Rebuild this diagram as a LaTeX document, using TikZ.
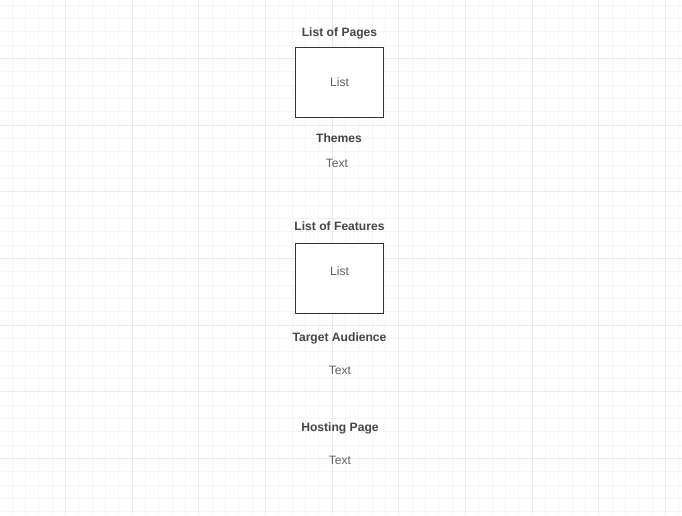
\documentclass[tikz,border=0pt]{standalone}
\usepackage{fontspec}
\setmainfont{Liberation Sans}
\begin{document}
\begin{tikzpicture}[x=1pt,y=-1pt,
  minorline/.style={draw=black!4, line width=0.8pt},
  majorline/.style={draw=black!8, line width=0.8pt},
  heading/.style={font=\fontsize{12.1}{14}\selectfont\bfseries, text=black!73, inner sep=0pt, anchor=base},
  bodytext/.style={font=\fontsize{12.1}{14}\selectfont, text=black!62, inner sep=0pt, anchor=base},
  listbox/.style={draw=black!80, line width=0.9pt, fill=white},
]
\useasboundingbox (0,0) rectangle (682,515);
\fill[white] (0,0) rectangle (682,515);
% grid
\foreach \i in {0,...,51} {
  \pgfmathsetmacro\xx{-1.33+13.333*\i}
  \draw[minorline] (\xx,0) -- (\xx,515);
}
\foreach \i in {0,...,38} {
  \pgfmathsetmacro\yy{5+13.333*\i}
  \draw[minorline] (0,\yy) -- (682,\yy);
}
\foreach \i in {0,...,10} {
  \pgfmathsetmacro\xx{65.33+66.667*\i}
  \draw[majorline] (\xx,0) -- (\xx,515);
}
\foreach \i in {0,...,7} {
  \pgfmathsetmacro\yy{58.33+66.667*\i}
  \draw[majorline] (0,\yy) -- (682,\yy);
}
% boxes
\draw[listbox] (295.3,47.3) rectangle (383.7,117.3);
\draw[listbox] (295.3,243.3) rectangle (383.7,313.3);
% texts
\node[heading] (pages) at (339.5,36) {List of Pages};
\node[bodytext] (list1) at (339.5,86) {List};
\node[heading] (themes) at (339,142) {Themes};
\node[bodytext] (text1) at (337,167) {Text};
\node[heading] (features) at (339.5,230) {List of Features};
\node[bodytext] (list2) at (339.5,275) {List};
\node[heading] (audience) at (339.5,341) {Target Audience};
\node[bodytext] (text2) at (340,374.3) {Text};
\node[heading] (hosting) at (340,431) {Hosting Page};
\node[bodytext] (text3) at (340,464) {Text};
\end{tikzpicture}
\end{document}
